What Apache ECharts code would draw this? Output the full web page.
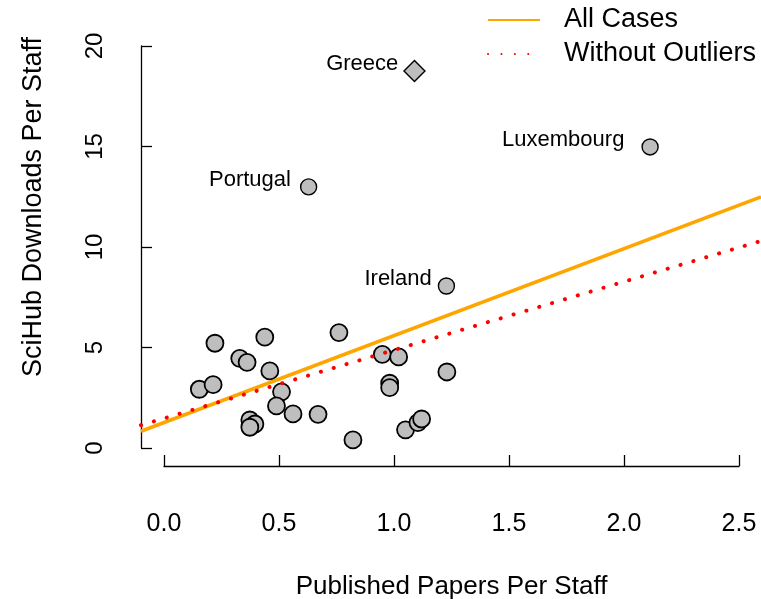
<!DOCTYPE html>
<html>
<head>
<meta charset="utf-8">
<script src="https://cdn.jsdelivr.net/npm/echarts@6/dist/echarts.min.js"></script>
<style>
  html, body { margin: 0; padding: 0; background: #fff; }
  #chart { width: 761px; height: 599px; }
</style>
</head>
<body>
<div id="chart"></div>
<script>
// ---- data ----
const papersPerStaff = [0.222, 0.439, 0.762, 0.330, 0.362, 0.461, 0.951, 1.022, 1.232, 0.154, 0.214, 0.512,
  0.983, 0.983, 0.490, 0.562, 0.671, 0.374, 0.396, 0.374, 0.823, 1.052, 1.106, 1.122];
const downloadsPerStaff = [5.21, 5.51, 5.74, 4.46, 4.26, 3.83, 4.66, 4.53, 3.78, 2.92, 3.15, 2.79,
  3.22, 3.00, 2.09, 1.69, 1.67, 1.39, 1.19, 1.03, 0.40, 0.90, 1.26, 1.44];

const outlierNames = ['Greece', 'Luxembourg', 'Portugal', 'Ireland'];
const outlierPapers = [1.091, 2.117, 0.630, 1.230];
const outlierDownloads = [18.76, 14.98, 12.99, 8.06];

const fitX = [-0.1, 2.6];
const fitAllCases = [0.83, 12.5];
const fitWithoutOutliers = [1.13, 10.3];

const xTicks = [0, 0.5, 1, 1.5, 2, 2.5];
const yTicks = [0, 5, 10, 15, 20];

const seriesNames = ['All Cases', 'Without Outliers'];
const xTitle = 'Published Papers Per Staff';
const yTitle = 'SciHub Downloads Per Staff';

// ---- styles ----
const FONT = 'Liberation Sans';
const labelStyle = {
  Greece: { distance: 5, symbol: 'diamond', size: 21 },
  Luxembourg: { distance: 17, symbol: 'circle', size: 16 },
  Portugal: { distance: 9, symbol: 'circle', size: 16 },
  Ireland: { distance: 6, symbol: 'circle', size: 16 }
};

const mainPoints = papersPerStaff.map((x, i) => [x, downloadsPerStaff[i]]);
const outlierPoints = outlierNames.map((n, i) => {
  const st = labelStyle[n];
  return {
    name: n,
    value: [outlierPapers[i], outlierDownloads[i]],
    symbol: st.symbol,
    symbolSize: st.size,
    label: {
      show: true, position: 'left', distance: st.distance, offset: [0, -7],
      formatter: n, color: '#000', fontFamily: FONT, fontSize: 22
    }
  };
});

const chart = echarts.init(document.getElementById('chart'), null, { renderer: 'canvas' });
const axisLineStyle = { color: '#000', width: 1.3 };

chart.setOption({
  backgroundColor: '#fff',
  animation: false,
  legend: {
    orient: 'vertical',
    left: 482, top: 0,
    itemWidth: 52, itemHeight: 14, itemGap: 4,
    data: seriesNames,
    itemStyle: { opacity: 0, borderWidth: 0 },
    textStyle: { fontFamily: FONT, fontSize: 27, color: '#000', lineHeight: 30, padding: [0, 0, 0, 19] }
  },
  grid: [
    { left: 141, right: 0, top: 30, bottom: 135, outerBoundsMode: 'none', containLabel: false },   // data area
    { left: 164, right: 22, top: 30, bottom: 133, outerBoundsMode: 'none', containLabel: false },  // x axis display (0..2.5)
    { left: 141, right: 0, top: 46, bottom: 151, outerBoundsMode: 'none', containLabel: false }    // y axis display (0..20)
  ],
  xAxis: [
    { gridIndex: 0, type: 'value', min: -0.1, max: 2.6, show: false },
    {
      gridIndex: 1, type: 'value', min: xTicks[0], max: xTicks[xTicks.length - 1], interval: 0.5,
      position: 'bottom',
      name: xTitle, nameLocation: 'middle', nameGap: 108,
      nameTextStyle: { fontFamily: FONT, fontSize: 26, color: '#000' },
      axisLine: { show: true, onZero: false, lineStyle: axisLineStyle },
      axisTick: { show: true, inside: true, length: 11, lineStyle: axisLineStyle },
      axisLabel: { margin: 46, fontFamily: FONT, fontSize: 25, color: '#000', formatter: v => v.toFixed(1) },
      splitLine: { show: false }
    },
    { gridIndex: 2, type: 'value', min: 0, max: 1, show: false }
  ],
  yAxis: [
    { gridIndex: 0, type: 'value', min: -0.8, max: 20.8, show: false },
    { gridIndex: 1, type: 'value', min: 0, max: 1, show: false },
    {
      gridIndex: 2, type: 'value', min: yTicks[0], max: yTicks[yTicks.length - 1], interval: 5,
      position: 'left',
      name: yTitle, nameLocation: 'middle', nameGap: 94, nameRotate: 90,
      nameTextStyle: { fontFamily: FONT, fontSize: 27, color: '#000', padding: [0, 0, 0, 80] },
      axisLine: { show: true, onZero: false, lineStyle: axisLineStyle },
      axisTick: { show: true, inside: true, length: 11, lineStyle: axisLineStyle },
      axisLabel: { margin: 34, rotate: 90, fontFamily: FONT, fontSize: 24, color: '#000' },
      splitLine: { show: false }
    }
  ],
  series: [
    {
      type: 'scatter', xAxisIndex: 0, yAxisIndex: 0, z: 2,
      data: mainPoints, symbol: 'circle', symbolSize: 17,
      itemStyle: { color: '#BEBEBE', borderColor: '#000', borderWidth: 1.8, opacity: 1 }
    },
    {
      type: 'scatter', xAxisIndex: 0, yAxisIndex: 0, z: 2,
      data: outlierPoints,
      itemStyle: { color: '#BEBEBE', borderColor: '#000', borderWidth: 1.4, opacity: 1 }
    },
    {
      name: seriesNames[0], type: 'line', xAxisIndex: 0, yAxisIndex: 0, z: 3,
      data: fitX.map((x, i) => [x, fitAllCases[i]]),
      symbol: 'none', silent: true,
      lineStyle: { color: '#FFA500', width: 3.5, type: 'solid' },
      itemStyle: { color: '#FFA500' }
    },
    {
      name: seriesNames[1], type: 'line', xAxisIndex: 0, yAxisIndex: 0, z: 4,
      data: fitX.map((x, i) => [x, fitWithoutOutliers[i]]),
      symbol: 'none', silent: true,
      lineStyle: { color: '#FF0000', width: 4, type: [0.1, 13.3], cap: 'round' },
      itemStyle: { color: '#FF0000' }
    }
  ]
});
</script>
</body>
</html>
